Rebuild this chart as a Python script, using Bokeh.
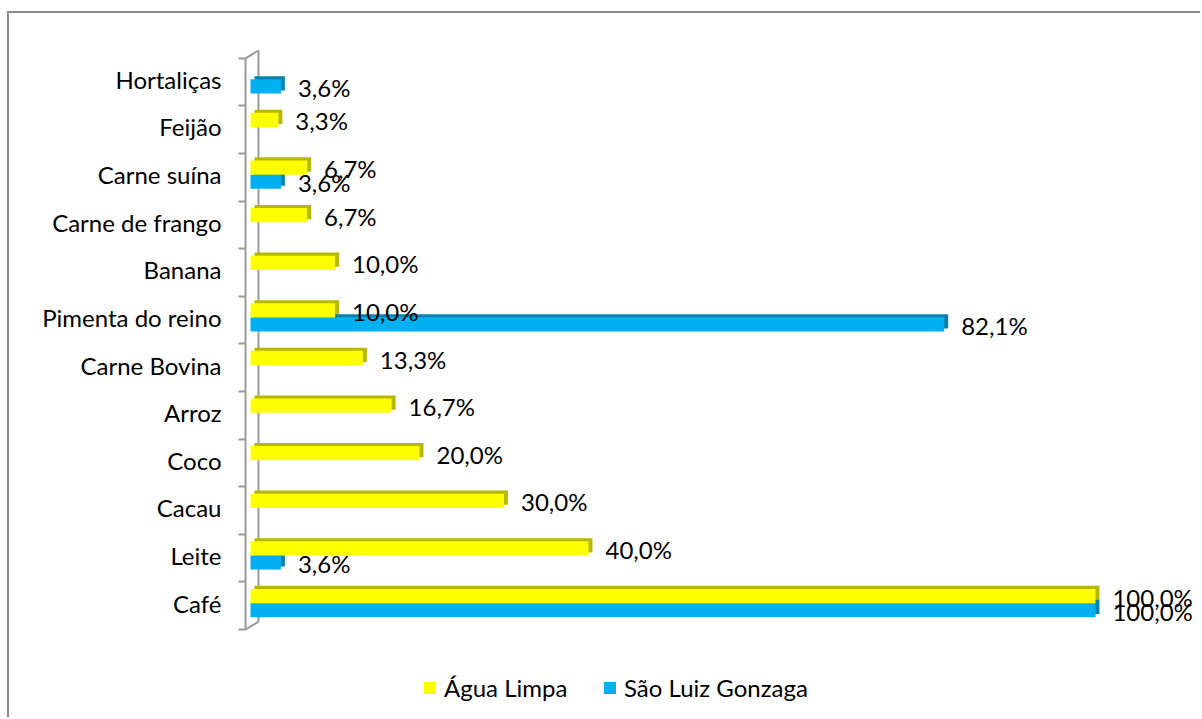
from bokeh.plotting import figure
from bokeh.models import (ColumnDataSource, Range1d, FixedTicker, Legend, LegendItem)
from bokeh.core.properties import value
from bokeh.embed import file_html
from bokeh.resources import INLINE

# ---------------- data (bottom to top) ----------------
categories = ["Café", "Leite", "Cacau", "Coco", "Arroz", "Carne Bovina",
              "Pimenta do reino", "Banana", "Carne de frango", "Carne suína",
              "Feijão", "Hortaliças"]
agua_limpa = [100.0, 40.0, 30.0, 20.0, 16.7, 13.3, 10.0, 10.0, 6.7, 6.7, 3.3, None]
sao_luiz = [100.0, 3.6, None, None, None, None, 82.1, None, None, 3.6, None, 3.6]
series_names = ["Água Limpa", "São Luiz Gonzaga"]

YELLOW, YELLOW_DARK = "#FFFF00", "#B8B800"
BLUE, BLUE_DARK = "#00B0F0", "#0582AE"
WALL = "#9a9a9a"
FONT = "Lato"
FS = "24px"

BAR_H = 0.30        # bar thickness (category units)
OFF = 0.147         # half-offset of the two series within a category
DEPTH_X = 0.47      # 3-D side face (value units)
DEPTH_Y = 0.065     # 3-D top face (category units)


def fmt(v):
    return f"{v:.1f}".replace(".", ",") + "%"


def make_source(vals, offset):
    ys, xs, labels = [], [], []
    for i, v in enumerate(vals):
        if v is None:
            continue
        ys.append(i + offset)
        xs.append(v)
        labels.append(fmt(v))
    return ColumnDataSource(dict(
        y=ys, right=xs, label=labels,
        yd=[y + DEPTH_Y for y in ys],
        rd=[x + DEPTH_X for x in xs],
    ))


src_a = make_source(agua_limpa, +OFF)
src_s = make_source(sao_luiz, -OFF)

# category axis extent (front plane of the 3-D box) and back wall
Y_LO, Y_HI = -0.557, 11.443
X_FRONT, X_BACK = -0.59, 0.947
Y_BACK_LO, Y_BACK_HI = -0.389, 11.607

p = figure(width=1193, height=706, output_backend="svg", toolbar_location=None,
           x_range=Range1d(-0.828, 112.43), y_range=Range1d(-2.447, 11.754),
           min_border_left=234, min_border_right=2, min_border_top=30,
           min_border_bottom=0)
p.styles = {"margin-left": "7px", "margin-top": "11px",
            "border-left": "2px solid #8a8a8a", "border-top": "2px solid #8a8a8a"}
p.outline_line_color = None
p.background_fill_color = "white"
p.border_fill_color = "white"
p.xgrid.visible = False
p.ygrid.visible = False
p.xaxis.visible = False

# 3-D wall: front edge, back edge and the two connecting diagonals
p.segment(x0=[X_FRONT, X_BACK, X_FRONT, X_FRONT],
          y0=[Y_LO, Y_BACK_LO, Y_LO, Y_HI],
          x1=[X_FRONT, X_BACK, X_BACK, X_BACK],
          y1=[Y_HI, Y_BACK_HI, Y_BACK_LO, Y_BACK_HI],
          line_color=WALL, line_width=2)

# depth faces
p.hbar(y="yd", left=DEPTH_X, right="rd", height=BAR_H, source=src_a,
       fill_color=YELLOW_DARK, line_color=None)
p.hbar(y="yd", left=DEPTH_X, right="rd", height=BAR_H, source=src_s,
       fill_color=BLUE_DARK, line_color=None)
# front faces
r_s = p.hbar(y="y", left=0, right="right", height=BAR_H, source=src_s,
             fill_color=BLUE, line_color=None)
r_a = p.hbar(y="y", left=0, right="right", height=BAR_H, source=src_a,
             fill_color=YELLOW, line_color=None)

# value labels
for src in (src_a, src_s):
    p.text(x="rd", y="y", text="label", source=src, x_offset=13, y_offset=1,
           text_font=value(FONT), text_font_size=FS, text_color="black",
           text_baseline="middle", text_align="left")

# category axis
ax = p.yaxis[0]
ax.ticker = FixedTicker(ticks=list(range(len(categories))),
                        minor_ticks=[Y_LO + k for k in range(len(categories) + 1)])
ax.major_label_overrides = {i: c for i, c in enumerate(categories)}
ax.major_tick_line_color = None
ax.major_tick_out = 0
ax.major_tick_in = 0
ax.minor_tick_out = 5
ax.minor_tick_in = 2
ax.minor_tick_line_color = WALL
ax.minor_tick_line_width = 2
ax.axis_line_color = None
ax.major_label_standoff = 17
ax.major_label_text_font = FONT
ax.major_label_text_font_size = FS
ax.major_label_text_color = "black"

# legends (one per series so each swatch sits where the reference has it)
for name, r, loc in ((series_names[0], r_a, (179, 17)),
                     (series_names[1], r_s, (359, 17))):
    lg = Legend(items=[LegendItem(label=name, renderers=[r])], location=loc,
                orientation="horizontal", glyph_width=15, glyph_height=15,
                label_standoff=7, padding=0, margin=0, spacing=0,
                border_line_color=None, background_fill_alpha=0,
                label_text_font=FONT, label_text_font_size=FS,
                label_text_color="black")
    p.add_layout(lg, "center")

open("out.html", "w").write(file_html(p, INLINE))
